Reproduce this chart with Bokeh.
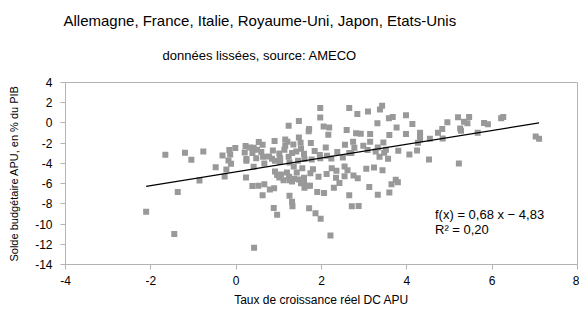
from bokeh.plotting import figure
from bokeh.models import Range1d, FixedTicker, Label, Title
from bokeh.embed import file_html
from bokeh.resources import INLINE

title_text = "Allemagne, France, Italie, Royaume-Uni, Japon, Etats-Unis"
subtitle_text = "données lissées, source: AMECO"
x_label = "Taux de croissance réel DC APU"
y_label = "Solde budgétaire APU, en % du PIB"
fit_text = "f(x) = 0,68 x − 4,83"
r2_text = "R² = 0,20"
slope = 0.68
intercept = -4.83
x_ticks = [-4, -2, 0, 2, 4, 6, 8]
y_ticks = [-14, -12, -10, -8, -6, -4, -2, 0, 2, 4]

growth = [
    -1.66, -1.20, -1.05, -0.77, -0.32, -0.16, -0.02, -0.18, -0.12, -0.48, -0.23, -0.27, -0.86, -1.37, -2.11, -1.45,
    1.97, 2.65, 3.42, 3.37, 1.97, 2.84, 3.09, 3.67, 3.58, 3.98, 1.47, 1.23, 2.05, 2.18, 1.71, 1.70, 2.59, 3.31,
    3.76, 2.16, 2.81, 2.92, 3.14, 3.59, 3.98, 1.47, 0.90, 1.15, 1.20, 1.51, 1.75, 1.34, 0.22, 0.32, 0.53, 0.62,
    0.49, 0.20, 0.38, 0.41, 0.59, 0.86, 1.15, 1.13, 1.52, 1.41, 1.31, 1.59, 1.84, 2.10, 2.37, 2.55, 2.74, 2.77,
    2.65, 2.98, 3.14, 3.08, 3.27, 3.45, 3.32, 3.51, 3.47, 3.80, 3.36, 3.56, -0.14, 0.24, 0.47, 0.63, 0.77, 0.84,
    1.01, 1.03, 1.23, 1.03, 0.91, 0.66, 0.24, 0.41, 1.25, 1.45, 1.60, 1.77, 1.97, 1.96, 2.13, 2.23, 2.50, 2.70,
    1.35, 1.55, 1.80, 2.24, 2.54, 2.61, 3.05, 3.23, 3.43, 0.91, 1.05, 1.19, 1.42, 1.24, 1.36, 1.93, 2.12, 2.35,
    2.34, 2.75, 2.85, 3.74, 0.23, 1.01, 1.11, 1.47, 1.59, 0.96, 1.25, 1.31, 1.52, 1.59, 1.60, 1.68, 1.73, 1.74,
    2.42, 2.29, 2.54, 0.38, 0.52, 0.66, 0.62, 0.79, 0.89, 1.25, 1.31, 1.32, 0.88, 0.96, 1.71, 1.86, 1.98, 1.90,
    2.06, 2.65, 2.71, 2.87, 3.12, 3.32, 3.59, 3.64, 3.79, 2.21, 0.42, 4.13, 4.31, 4.31, 4.31, 4.26, 4.54, 4.73,
    4.83, 4.95, 4.84, 5.20, 5.25, 5.27, 5.34, 5.42, 5.46, 5.66, 5.81, 5.90, 6.21, 6.26, 7.02, 7.10, 4.06, 4.24,
    4.52, 5.22,
]
balance = [
    -3.15, -2.95, -3.64, -2.82, -3.22, -2.68, -2.48, -3.71, -4.04, -4.37, -4.61, -5.30, -5.70, -6.82, -8.78, -10.99,
    1.49, 1.49, 1.69, 1.32, 0.53, 0.89, 1.12, 0.60, 0.46, 0.75, 0.20, -0.27, -0.34, -0.44, -0.60, -0.83, -0.70, -0.04,
    -0.44, -1.16, -1.03, -1.06, -1.09, -1.19, -1.09, -1.43, -1.79, -1.63, -1.86, -1.96, -1.99, -2.13, -2.28, -2.42, -1.89, -2.15,
    -2.65, -2.92, -2.98, -2.45, -2.88, -2.72, -2.25, -2.65, -2.55, -2.82, -2.98, -3.05, -2.78, -2.42, -2.88, -2.15, -1.86, -2.45,
    -2.98, -2.25, -1.86, -2.68, -2.82, -1.93, -2.42, -2.65, -2.95, -2.75, -3.35, -3.55, -3.12, -3.57, -3.48, -3.35, -3.32, -3.55,
    -3.02, -3.48, -3.35, -3.87, -3.74, -4.01, -3.74, -4.34, -3.91, -3.74, -3.57, -3.61, -3.48, -3.18, -3.25, -3.52, -3.42, -2.98,
    -4.31, -4.47, -4.57, -4.47, -4.31, -4.67, -4.54, -4.41, -4.67, -4.81, -5.10, -4.91, -4.91, -5.33, -5.53, -5.33, -5.06, -4.74,
    -5.43, -5.20, -5.46, -5.63, -5.40, -5.40, -5.66, -5.60, -5.43, -5.16, -5.66, -5.80, -5.96, -5.83, -6.42, -6.20, -6.20, -4.97,
    -5.93, -6.40, -5.26, -6.23, -6.20, -6.06, -7.15, -6.59, -6.45, -7.19, -7.79, -8.24, -8.41, -9.08, -8.44, -8.94, -9.47, -6.82,
    -6.92, -7.15, -8.24, -8.21, -6.33, -7.09, -6.89, -6.06, -5.86, -11.12, -12.35, -0.10, -0.96, -1.29, -1.63, -1.96, -1.56, -0.96,
    -0.60, 0.06, -1.53, 0.56, -0.54, -0.76, 0.13, -0.04, 0.60, -0.96, 0.00, -0.14, 0.46, 0.60, -1.33, -1.56, -3.12, -2.72,
    -3.61, -4.01,
]

FONT = "Liberation Sans"
GRAY = "#b3b3b3"

p = figure(width=579, height=314, output_backend="svg", toolbar_location=None,
           x_range=Range1d(-4, 8), y_range=Range1d(-14, 4),
           min_border_left=65, min_border_right=2, min_border_top=82, min_border_bottom=50)
p.background_fill_color = "white"
p.border_fill_color = "white"
p.outline_line_color = GRAY
p.outline_line_width = 1
p.grid.visible = False

for ax, ticks in ((p.xaxis[0], x_ticks), (p.yaxis[0], y_ticks)):
    ax.ticker = FixedTicker(ticks=ticks)
    ax.major_label_overrides = {t: str(t) for t in ticks}
    ax.axis_line_color = GRAY
    ax.major_tick_line_color = GRAY
    ax.major_tick_out = 5
    ax.major_tick_in = 0
    ax.minor_tick_line_color = None
    ax.major_label_text_font = FONT
    ax.major_label_text_font_size = "12px"
    ax.major_label_text_color = "black"
    ax.axis_label_text_font = FONT
    ax.axis_label_text_font_style = "normal"
    ax.axis_label_text_color = "black"

p.xaxis.axis_label = x_label
p.xaxis.axis_label_text_font_size = "12px"
p.xaxis.major_label_standoff = 6
p.xaxis.axis_label_standoff = 5
p.yaxis.axis_label = y_label
p.yaxis.axis_label_text_font_size = "11px"
p.yaxis.major_label_standoff = 8
p.yaxis.axis_label_standoff = 12

p.scatter(growth, balance, marker="square", size=6, fill_color="#999999", line_color=None)

x0, x1 = min(growth), max(growth)
p.line([x0, x1], [slope * x0 + intercept, slope * x1 + intercept], line_color="black", line_width=1.2)

p.add_layout(Label(x=4.66, y=-9.1, text=fit_text, text_font=FONT, text_font_size="13px",
                   text_baseline="middle", text_align="left", text_color="black"))
p.add_layout(Label(x=4.66, y=-10.55, text=r2_text, text_font=FONT, text_font_size="13px",
                   text_baseline="middle", text_align="left", text_color="black"))

p.add_layout(Title(text=subtitle_text, align="left", offset=97, standoff=35, vertical_align="top",
                   text_font=FONT, text_font_size="13px", text_font_style="normal",
                   text_color="black"), "above")
p.add_layout(Title(text=title_text, align="left", offset=-2, standoff=3,
                   text_font=FONT, text_font_size="15px", text_font_style="normal",
                   text_color="black"), "above")

open("out.html", "w").write(file_html(p, INLINE))
